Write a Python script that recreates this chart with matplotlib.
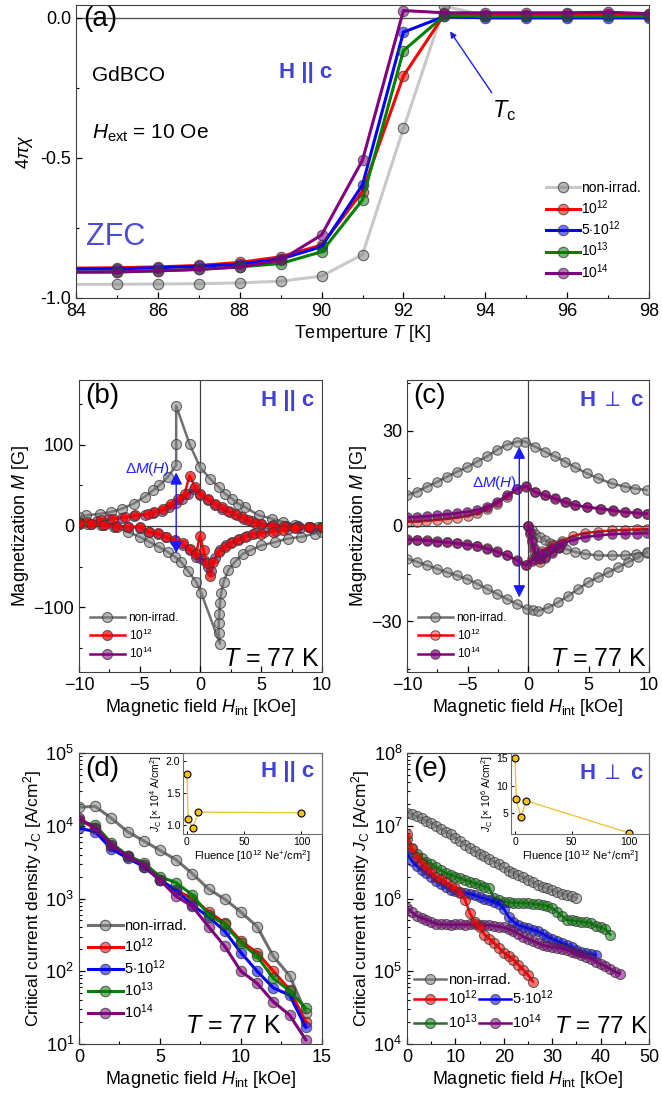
import matplotlib
matplotlib.use('Agg')
import matplotlib.pyplot as plt
from matplotlib.colors import to_rgba
from matplotlib.ticker import MultipleLocator, LogLocator, NullFormatter

plt.rcParams['font.family'] = ['Liberation Sans', 'DejaVu Sans']
plt.rcParams['mathtext.fontset'] = 'custom'
plt.rcParams['mathtext.rm'] = 'Liberation Sans'
plt.rcParams['mathtext.it'] = 'Liberation Sans:italic'
plt.rcParams['mathtext.bf'] = 'Liberation Sans:bold'
plt.rcParams['font.size'] = 13
plt.rcParams['xtick.direction'] = 'in'
plt.rcParams['ytick.direction'] = 'in'
plt.rcParams['axes.edgecolor'] = '#404040'

GRAY = '#808080'
RED = '#ff0000'
BLUE = '#0000ff'
GREEN = '#008000'
PURPLE = '#800080'
TXTBLUE = '#4343d3'

LABELS = ['non-irrad.', r'$10^{12}$', r'$5{\cdot}10^{12}$', r'$10^{13}$', r'$10^{14}$']

# ---- (a) susceptibility vs temperature
temp = [83, 85, 86, 87, 88, 89, 90, 91, 92, 93, 94, 95, 96, 97, 98]
chi_nonirr = [-0.952, -0.951, -0.950, -0.949, -0.946, -0.940, -0.922, -0.845, -0.395, 0.042, 0.008, 0.008, 0.008, 0.010, 0.008]
chi_1e12 = [-0.895, -0.892, -0.889, -0.884, -0.873, -0.853, -0.811, -0.620, -0.207, 0.012, 0.010, 0.010, 0.012, 0.012, 0.012]
chi_5e12 = [-0.897, -0.896, -0.892, -0.887, -0.879, -0.861, -0.817, -0.596, -0.051, 0.005, 0.000, 0.000, 0.000, 0.000, 0.000]
chi_1e13 = [-0.908, -0.907, -0.903, -0.898, -0.889, -0.877, -0.835, -0.650, -0.117, 0.008, 0.005, 0.005, 0.005, 0.005, 0.005]
chi_1e14 = [-0.908, -0.907, -0.903, -0.898, -0.889, -0.865, -0.775, -0.508, 0.026, 0.018, 0.018, 0.018, 0.018, 0.020, 0.015]

# ---- (b) M(H), H || c
b_gray_up_h = [9.7, 8.9, 7.8, 6.8, 5.9, 4.8, 3.7, 3.1, 2.6, 2.0, 1.5, 0.8, -0.04, -0.9, -2.0, -2.0, -2.0, -2.7, -3.4, -3.9, -4.6, -5.5, -6.5, -7.4, -8.3, -9.4, -10]
b_gray_up_m = [-1, -1, 1, 5, 9, 13, 23, 27.5, 33.6, 40, 48, 58, 72.5, 101, 148, 101, 75, 60, 50, 44, 36, 27.5, 21, 17, 15, 13, 11]
b_gray_lo_h = [-10, -9.3, -8.2, -7.1, -6.0, -5.0, -4.2, -3.4, -2.7, -2.1, -1.6, -1.0, -0.35, 0.07, 1.6, 1.5, 1.5, 1.55, 1.6, 1.7, 1.9, 2.3, 2.85, 3.5, 4.1, 5.0, 6.1, 7.2, 8.3, 9.4, 10]
b_gray_lo_m = [5, 3, 1, -1, -7, -13.5, -19.6, -26, -32, -38, -44, -56, -69, -83, -145, -132, -120, -108, -95, -83, -69, -54, -44, -34, -30, -24, -20, -15.5, -13.5, -9.3, -8]
b_red_up_h = [10, 8.9, 7.9, 6.9, 5.9, 5.0, 4.5, 3.95, 3.4, 2.85, 2.3, 1.75, 1.2, 0.65, -0.05, -0.45, -0.9, -1.3, -1.85, -2.4, -3.1, -3.8, -4.3, -5.4, -6.2, -7.2, -8.2, -9.3, -10]
b_red_up_m = [-1, -1, -1, 0, 0, 2, 4, 7, 11, 15, 19, 23, 27.5, 33.6, 40, 48, 62, 40, 33.6, 27.5, 21, 17, 15, 13, 11, 9, 7, 5, 4]
b_red_lo_h = [-10, -9, -7.9, -6.9, -6.0, -5.0, -4.2, -3.5, -2.8, -2.1, -1.45, -0.9, -0.35, -0.05, 0.25, 0.5, 0.8, 1.05, 1.5, 2.0, 2.55, 3.1, 3.65, 4.35, 5.0, 6.0, 6.8, 7.8, 8.9, 10]
b_red_lo_m = [3, 2, 1, -1, -1, -1, -7, -9, -13.5, -17, -21.6, -28, -34, -12, -30, -46, -62, -44, -32, -26, -21.6, -17.6, -13.5, -10, -9.3, -7, -5.3, -3, -1, -1]
b_pur_up_h = [10, 9, 8, 7, 6, 5, 4.2, 3.6, 3.0, 2.4, 1.8, 1.2, 0.6, 0.0, -0.5, -1.0, -1.5, -2.0, -2.6, -3.2, -3.9, -4.6, -5.5, -6.5, -7.5, -8.5, -10]
b_pur_up_m = [-1, -1, 0, 0, 1, 3, 6, 9, 13, 17, 21, 26, 32, 38, 45, 40, 33, 28, 23, 19, 16, 14, 12, 10, 8, 6, 4]
b_pur_lo_h = [-10, -9, -8, -7, -6, -5, -4.2, -3.5, -2.8, -2.1, -1.45, -0.9, -0.35, 0.0, 0.3, 0.6, 0.9, 1.2, 1.6, 2.1, 2.6, 3.2, 3.8, 4.5, 5.2, 6.2, 7.2, 8.2, 9.2, 10]
b_pur_lo_m = [3, 2, 1, 0, -1, -2, -8, -10, -14, -18, -23, -30, -38, -40, -42, -50, -55, -40, -30, -24, -20, -16, -12, -9, -8, -6, -4, -3, -2, -1]

# ---- (c) M(H), H perp c
c_gray_vir_h = [0, 0.3, 0.6, 1.0, 1.4, 1.8, 2.2, 2.6, 3.1, 3.9, 4.7, 5.8, 6.9, 8.0, 8.9, 9.8]
c_gray_vir_m = [0, -1.2, -2.4, -3.5, -4.5, -5.3, -6.1, -6.6, -7.2, -8.2, -8.8, -9.3, -9.3, -9.3, -8.8, -8.4]
c_gray_up_h = [9.8, 8.84, 8.0, 6.9, 5.8, 4.85, 3.88, 3.06, 2.23, 1.4, 0.58, -0.25, -0.9, -1.74, -2.56, -3.39, -4.2, -5.04, -5.87, -6.7, -7.5, -8.35, -9.17, -10]
c_gray_up_m = [11.3, 11.8, 12.4, 13.4, 15.0, 16.6, 18.5, 20.3, 21.9, 23.4, 25.0, 26.6, 26.6, 25.6, 24.0, 21.9, 20.3, 18.5, 17.1, 15.5, 13.9, 12.4, 10.8, 9.7]
c_gray_lo_h = [-10, -9.17, -8.35, -7.5, -6.7, -5.87, -5.04, -4.2, -3.39, -2.56, -1.74, -0.9, -0.08, 0.4, 0.85, 1.68, 2.5, 3.33, 4.16, 4.98, 5.8, 6.64, 7.46, 8.29, 9.1, 9.8]
c_gray_lo_m = [-10.3, -11.3, -12.4, -13.5, -14.6, -15.6, -16.7, -18.2, -19.8, -21.4, -23.0, -24.6, -26.2, -26.5, -26.7, -25.7, -24.0, -22.0, -19.8, -17.7, -16.1, -14.6, -13.0, -11.4, -9.8, -8.2]
c_red_vir_h = [0, 0.15, 0.3, 0.5, 0.7, 1.0, 1.4, 2.0, 2.6]
c_red_vir_m = [0, -2.5, -5, -8, -10.5, -11.5, -10, -8, -6.5]
c_red_up_h = [9.8, 9.0, 8.0, 7.0, 6.0, 4.9, 3.9, 3.1, 2.2, 1.4, 0.6, -0.2, -0.9, -1.7, -2.6, -3.4, -4.2, -5.0, -5.9, -6.7, -7.5, -8.4, -9.2, -10]
c_red_up_m = [3.8, 4.0, 4.3, 4.8, 5.3, 5.9, 6.5, 7.4, 8.5, 9.6, 10.6, 12.4, 11.5, 9.2, 7.0, 5.2, 4.0, 3.2, 2.6, 2.2, 1.9, 1.6, 1.4, 1.3]
c_red_lo_h = [-10, -9.17, -8.35, -7.5, -6.7, -5.87, -5.04, -4.2, -3.39, -2.56, -1.74, -0.9, -0.2, 0.3, 1.13, 1.96, 2.8, 3.7, 4.7, 5.8, 6.9, 8.0, 9.0, 9.8]
c_red_lo_m = [-4.2, -4.3, -4.5, -4.8, -5.1, -5.4, -5.8, -6.2, -7.0, -8.0, -9.2, -10.7, -12.2, -10.5, -8.0, -6.0, -4.8, -3.2, -2.2, -1.8, -1.4, -1.2, -1.1, -1.0]
c_pur_vir_h = [0, 0.15, 0.3, 0.5, 0.7, 1.0, 1.4, 2.0, 2.6]
c_pur_vir_m = [0, -2, -4.5, -7, -9.5, -10.5, -9.8, -8.4, -7.0]
c_pur_up_h = [9.8, 8.98, 8.0, 7.05, 5.95, 4.85, 3.88, 3.06, 2.23, 1.4, 0.58, -0.2, -0.9, -1.74, -2.56, -3.39, -4.2, -5.04, -5.87, -6.7, -7.5, -8.35, -9.17, -10]
c_pur_up_m = [3.9, 4.1, 4.4, 5.0, 5.5, 6.0, 6.6, 7.6, 8.7, 9.7, 10.8, 12.6, 11.8, 9.7, 7.6, 6.0, 5.0, 4.5, 4.1, 3.7, 3.4, 3.1, 2.9, 2.8]
c_pur_lo_h = [-10, -9.17, -8.35, -7.5, -6.7, -5.87, -5.04, -4.2, -3.39, -2.56, -1.74, -0.9, -0.2, 0.3, 1.13, 1.96, 2.8, 3.7, 4.7, 5.8, 6.9, 8.0, 9.0, 9.8]
c_pur_lo_m = [-4.3, -4.3, -4.6, -4.9, -5.2, -5.5, -5.9, -6.3, -7.2, -8.2, -9.3, -10.9, -12.4, -11.0, -8.6, -6.8, -5.5, -4.4, -3.5, -3.0, -2.6, -2.4, -2.4, -2.2]

# ---- (d) Jc(H), H || c
d_field = [0, 1, 2, 3, 4, 5, 6, 7, 8, 9, 10, 11, 12, 13, 14]
d_nonirr = [1.8e4, 1.85e4, 1.27e4, 8.3e3, 6.2e3, 4.6e3, 3.4e3, 2.2e3, 1.35e3, 980, 650, 410, 160, 87, 27]
d_1e12 = [1.2e4, 9.3e3, 5.2e3, 3.8e3, 2.75e3, 1.8e3, 1.3e3, 1.0e3, 660, 460, 260, 180, 100, 56, 20]
d_5e12 = [9.3e3, 8.3e3, 4.8e3, 3.6e3, 2.75e3, 1.8e3, 1.3e3, 810, 560, 355, 180, 100, 59, 47, 17]
d_1e13 = [1.15e4, 1.02e4, 5.8e3, 3.9e3, 3.1e3, 2.0e3, 1.65e3, 1.12e3, 600, 440, 245, 160, 80, 54, 31]
d_1e14 = [1.27e4, 9.3e3, 5.5e3, 3.8e3, 2.9e3, 1.8e3, 1.07e3, 780, 410, 220, 100, 68, 38, 25, 11.4]

# ---- (e) Jc(H), H perp c
e_field = [0, 1, 2, 3, 4, 5, 6, 7, 8, 9, 10, 11, 12, 13, 14, 15, 16, 17, 18, 19, 20, 21, 22,
           23, 24, 25, 26, 27, 28, 29, 30, 31, 32, 33, 34, 35, 36, 37, 38, 39, 40, 41, 42, 43, 44]
e_nonirr = [1.51e7, 1.45e7, 1.35e7, 1.26e7, 1.17e7, 1.10e7, 1.00e7, 9.1e6, 8.3e6, 7.6e6, 6.8e6, 6.2e6,
            5.5e6, 5.0e6, 4.5e6, 4.1e6, 3.8e6, 3.5e6, 3.2e6, 3.0e6, 2.7e6, 2.4e6, 2.26e6, 2.1e6, 1.95e6,
            1.82e6, 1.68e6, 1.55e6, 1.46e6, 1.38e6, 1.30e6, 1.23e6, 1.17e6, 1.12e6, 1.07e6, 1.02e6]
e_1e12 = [7.6e6, 5.0e6, 3.7e6, 3.1e6, 2.6e6, 2.3e6, 2.0e6, 1.86e6, 1.7e6, 1.5e6, 1.38e6, 1.2e6, 9.5e5,
          6.3e5, 4.8e5, 4.0e5, 3.2e5, 2.8e5, 2.45e5, 2.1e5, 1.8e5, 1.6e5, 1.45e5, 1.23e5, 1.05e5, 8.9e4, 7.2e4]
e_5e12 = [4.2e6, 3.3e6, 2.8e6, 2.5e6, 2.24e6, 2.0e6, 1.76e6, 1.58e6, 1.43e6, 1.32e6, 1.27e6, 1.23e6,
          1.2e6, 1.16e6, 1.11e6, 1.05e6, 1.0e6, 9.5e5, 9.1e5, 8.5e5, 7.2e5, 5.6e5, 4.8e5, 4.3e5, 4.1e5,
          3.9e5, 3.7e5, 3.55e5, 3.3e5, 3.0e5, 2.8e5, 2.6e5, 2.45e5, 2.3e5, 2.15e5, 1.95e5, 1.86e5,
          1.78e5, 1.72e5, 1.66e5]
e_1e13 = [6.6e6, 4.8e6, 4.1e6, 3.6e6, 3.2e6, 3.0e6, 2.7e6, 2.45e6, 2.24e6, 2.1e6, 2.0e6, 1.9e6, 1.8e6,
          1.7e6, 1.62e6, 1.55e6, 1.46e6, 1.38e6, 1.02e6, 9.5e5, 9.1e5, 8.9e5, 8.7e5, 8.7e5, 8.7e5, 8.6e5,
          8.5e5, 8.3e5, 8.2e5, 7.9e5, 7.4e5, 6.6e5, 5.75e5, 5.1e5, 5.0e5, 4.9e5, 4.8e5, 4.7e5, 4.6e5,
          4.2e5, 4.0e5, 3.8e5, 3.2e5]
e_1e14 = [7.4e5, 6.5e5, 5.75e5, 5.4e5, 5.1e5, 4.8e5, 4.5e5, 4.4e5, 4.4e5, 4.35e5, 4.4e5, 4.4e5, 4.35e5,
          4.4e5, 4.4e5, 4.35e5, 4.3e5, 4.3e5, 4.2e5, 4.1e5, 4.0e5, 3.8e5, 3.55e5, 3.3e5, 3.0e5, 2.8e5,
          2.6e5, 2.45e5, 2.3e5, 2.2e5, 2.15e5, 2.1e5, 2.05e5, 1.95e5, 1.86e5, 1.78e5, 1.66e5, 1.58e5,
          1.48e5, 1.35e5, 1.26e5, 1.17e5, 1.07e5, 9.8e4, 9.3e4]

# ---- insets: Jc at zero field vs fluence
fluence = [0, 1, 5, 10, 100]
jc0_par = [1.8, 1.1, 0.95, 1.2, 1.19]
jc0_perp = [15, 7.5, 4.3, 7.2, 1.3]


def draw(ax, x, y, color, label=None, lw=2.0, ms=7.0, line=None, alpha=0.55):
    return ax.plot(x, y, '-o', color=line or color, lw=lw, ms=ms,
                   mfc=to_rgba(color, alpha), mec=to_rgba('#3a3a3a', 0.75),
                   mew=0.8, label=label)[0]


def style(ax, xmaj, xmin, ymaj=None, ymin=None):
    ax.xaxis.set_major_locator(MultipleLocator(xmaj))
    ax.xaxis.set_minor_locator(MultipleLocator(xmin))
    if ymaj is not None:
        ax.yaxis.set_major_locator(MultipleLocator(ymaj))
        ax.yaxis.set_minor_locator(MultipleLocator(ymin))
    ax.tick_params(which='major', length=4, width=0.9, labelsize=13)
    ax.tick_params(which='minor', length=2.5, width=0.8)


def logstyle(ax):
    ax.set_yscale('log')
    ax.yaxis.set_major_locator(LogLocator(base=10))
    ax.yaxis.set_minor_locator(LogLocator(base=10, subs=(2, 3, 4, 5, 6, 7, 8, 9)))
    ax.yaxis.set_minor_formatter(NullFormatter())


def inset(ax, bounds, y, ylim, yticks, ylabel):
    ins = ax.inset_axes(bounds)
    ins.set_facecolor('none')
    ins.plot(fluence, y, '-o', color='#ecc640', lw=1.0, ms=5, mfc='#f6c21a', mec='black', mew=0.8)
    ins.set_xlim(-3.5, 118)
    ins.set_ylim(*ylim)
    ins.set_xticks([0, 50, 100])
    ins.set_yticks(yticks)
    ins.tick_params(labelsize=7.5, length=2.5, width=0.7, pad=2)
    for s in ins.spines.values():
        s.set_color('#707070')
        s.set_linewidth(0.8)
    ins.set_xlabel(r'Fluence [10$^{12}$ Ne$^{+}$/cm$^{2}$]', fontsize=8, labelpad=1)
    ins.set_ylabel(ylabel, fontsize=7.5, labelpad=1)
    return ins


fig = plt.figure(figsize=(6.62, 11), dpi=100)

# ---------------- (a)
ax = fig.add_axes([0.1148, 0.7291, 0.8656, 0.2664])
ax.axhline(0, color='#555555', lw=1.0, zorder=0)
h = []
h.append(draw(ax, temp, chi_nonirr, GRAY, LABELS[0], lw=2.2, ms=7.5, line='#c8c8c8'))
h.append(draw(ax, temp, chi_1e12, RED, LABELS[1], lw=2.2, ms=7.5))
h.append(draw(ax, temp, chi_5e12, BLUE, LABELS[2], lw=2.2, ms=7.5))
h.append(draw(ax, temp, chi_1e13, GREEN, LABELS[3], lw=2.2, ms=7.5))
h.append(draw(ax, temp, chi_1e14, PURPLE, LABELS[4], lw=2.2, ms=7.5))
ax.set_xlim(84, 98)
ax.set_ylim(-1.0, 0.046)
style(ax, 2, 1, 0.5, 0.25)
ax.yaxis.set_major_formatter(plt.FormatStrFormatter('%.1f'))
ax.set_xlabel(r'Temperture $T$ [K]', fontsize=13, labelpad=2)
ax.set_ylabel(r'$4\pi\chi$', fontsize=13)
ax.legend(handles=h, loc='lower right', bbox_to_anchor=(1.0, 0.03), frameon=False, fontsize=10,
          handlelength=2.4, handletextpad=0.1, labelspacing=0.2, borderaxespad=0.2)
ax.text(0.012, 0.995, '(a)', transform=ax.transAxes, fontsize=20, va='top')
ax.text(0.028, 0.758, 'GdBCO', transform=ax.transAxes, fontsize=15, va='center')
ax.text(0.028, 0.563, r'$H_{\rm ext}$ = 10 Oe', transform=ax.transAxes, fontsize=15, va='center')
ax.text(0.018, 0.208, 'ZFC', transform=ax.transAxes, fontsize=22, color='#4b4bd6', va='center')
ax.text(0.355, 0.768, 'H || c', transform=ax.transAxes, fontsize=16, fontweight='bold',
        color=TXTBLUE, va='center')
ax.annotate(r'$T_{\rm c}$', xy=(93.1, -0.04), xytext=(94.45, -0.33), fontsize=17,
            ha='center', va='center',
            arrowprops=dict(arrowstyle='-|>', color='#2020e0', lw=1.0, mutation_scale=9))

# ---------------- (b)
ax = fig.add_axes([0.1193, 0.3891, 0.3671, 0.2655])
ax.axhline(0, color='#404040', lw=0.9, zorder=0)
ax.axvline(0, color='#404040', lw=0.9, zorder=0)
g = draw(ax, b_gray_up_h, b_gray_up_m, GRAY, LABELS[0], lw=1.8, ms=7.2, line='#707070')
draw(ax, b_gray_lo_h, b_gray_lo_m, GRAY, lw=1.8, ms=7.2, line='#707070')
p = draw(ax, b_pur_up_h, b_pur_up_m, PURPLE, LABELS[4], lw=1.8, ms=7.2)
draw(ax, b_pur_lo_h, b_pur_lo_m, PURPLE, lw=1.8, ms=7.2)
r = draw(ax, b_red_up_h, b_red_up_m, RED, LABELS[1], lw=1.8, ms=7.2, alpha=0.7)
draw(ax, b_red_lo_h, b_red_lo_m, RED, lw=1.8, ms=7.2, alpha=0.7)
ax.set_xlim(-10, 10)
ax.set_ylim(-180, 180)
style(ax, 5, 2.5, 100, 50)
ax.set_xlabel(r'Magnetic field $H_{\rm int}$ [kOe]', fontsize=13, labelpad=2)
ax.set_ylabel(r'Magnetization $M$ [G]', fontsize=13, labelpad=2)
ax.legend(handles=[g, r, p], loc='lower left', frameon=False, fontsize=8.5,
          handlelength=3.0, handletextpad=0.3, labelspacing=0.3, borderaxespad=0.5)
ax.annotate('', xy=(-2.0, 66), xytext=(-2.0, -34),
            arrowprops=dict(arrowstyle='<|-|>', color='#1a1aff', lw=1.0, mutation_scale=18,
                            shrinkA=0, shrinkB=0))
ax.text(-2.5, 70, r'$\Delta M(H)$', fontsize=11, color='#2222ff', ha='right', va='center')
ax.text(0.025, 0.99, '(b)', transform=ax.transAxes, fontsize=20, va='top')
ax.text(0.97, 0.93, 'H || c', transform=ax.transAxes, fontsize=16, fontweight='bold',
        color=TXTBLUE, ha='right', va='center')
ax.text(0.99, 0.005, r'$T$ = 77 K', transform=ax.transAxes, fontsize=18, ha='right', va='bottom')

# ---------------- (c)
ax = fig.add_axes([0.6148, 0.3891, 0.3656, 0.2655])
ax.axhline(0, color='#404040', lw=0.9, zorder=0)
ax.axvline(0, color='#404040', lw=0.9, zorder=0)
g = draw(ax, c_gray_vir_h, c_gray_vir_m, GRAY, LABELS[0], lw=1.8, ms=6.8, line='#707070')
draw(ax, c_gray_up_h, c_gray_up_m, GRAY, lw=1.8, ms=6.8, line='#707070')
draw(ax, c_gray_lo_h, c_gray_lo_m, GRAY, lw=1.8, ms=6.8, line='#707070')
r = draw(ax, c_red_vir_h, c_red_vir_m, RED, LABELS[1], lw=1.8, ms=6.8, alpha=0.4)
draw(ax, c_red_up_h, c_red_up_m, RED, lw=1.8, ms=6.8, alpha=0.4)
draw(ax, c_red_lo_h, c_red_lo_m, RED, lw=1.8, ms=6.8, alpha=0.4)
p = draw(ax, c_pur_vir_h, c_pur_vir_m, PURPLE, LABELS[4], lw=1.8, ms=6.8, alpha=0.7)
draw(ax, c_pur_up_h, c_pur_up_m, PURPLE, lw=1.8, ms=6.8, alpha=0.7)
draw(ax, c_pur_lo_h, c_pur_lo_m, PURPLE, lw=1.8, ms=6.8, alpha=0.7)
ax.set_xlim(-10, 10)
ax.set_ylim(-46, 46)
style(ax, 5, 2.5, 30, 15)
ax.set_xlabel(r'Magnetic field $H_{\rm int}$ [kOe]', fontsize=13, labelpad=2)
ax.set_ylabel(r'Magnetization $M$ [G]', fontsize=13, labelpad=2)
ax.legend(handles=[g, r, p], loc='lower left', frameon=False, fontsize=8.5,
          handlelength=3.0, handletextpad=0.3, labelspacing=0.3, borderaxespad=0.5)
ax.annotate('', xy=(-0.72, 25), xytext=(-0.72, -22.5),
            arrowprops=dict(arrowstyle='<|-|>', color='#1a1aff', lw=1.0, mutation_scale=18,
                            shrinkA=0, shrinkB=0))
ax.text(-0.9, 13.4, r'$\Delta M(H)$', fontsize=11, color='#2222ff', ha='right', va='center')
ax.text(0.025, 0.99, '(c)', transform=ax.transAxes, fontsize=20, va='top')
ax.text(0.98, 0.93, r'H $\perp$ c', transform=ax.transAxes, fontsize=16, fontweight='bold',
        color=TXTBLUE, ha='right', va='center')
ax.text(0.99, 0.005, r'$T$ = 77 K', transform=ax.transAxes, fontsize=18, ha='right', va='bottom')

# ---------------- (d)
ax = fig.add_axes([0.1193, 0.0509, 0.3671, 0.2645])
h = []
h.append(draw(ax, d_field, d_nonirr, GRAY, LABELS[0], lw=2.2, ms=7.5, line='#707070'))
h.append(draw(ax, d_field, d_1e12, RED, LABELS[1], lw=2.2, ms=7.5))
h.append(draw(ax, d_field, d_5e12, BLUE, LABELS[2], lw=2.2, ms=7.5))
h.append(draw(ax, d_field, d_1e13, GREEN, LABELS[3], lw=2.2, ms=7.5))
h.append(draw(ax, d_field, d_1e14, PURPLE, LABELS[4], lw=2.2, ms=7.5))
logstyle(ax)
ax.set_xlim(0, 15)
ax.set_ylim(1e1, 1e5)
style(ax, 5, 2.5)
ax.set_xlabel(r'Magnetic field $H_{\rm int}$ [kOe]', fontsize=13, labelpad=2)
ax.set_ylabel(r'Critical current density $J_{\rm C}$ [A/cm$^2$]', fontsize=12.5, labelpad=1)
ax.legend(handles=h, loc='lower left', bbox_to_anchor=(0.0, 0.05), frameon=False, fontsize=10.5,
          handlelength=2.4, handletextpad=0.1, labelspacing=0.22, borderaxespad=0.2)
ax.text(0.025, 0.99, '(d)', transform=ax.transAxes, fontsize=20, va='top')
ax.text(0.97, 0.935, 'H || c', transform=ax.transAxes, fontsize=16, fontweight='bold',
        color=TXTBLUE, ha='right', va='center', zorder=5)
ax.text(0.835, 0.02, r'$T$ = 77 K', transform=ax.transAxes, fontsize=18, ha='right', va='bottom')
inset(ax, [0.428, 0.722, 0.572, 0.278], jc0_par, (0.86, 2.12), [1.0, 1.5, 2.0],
      r'$J_{\rm C}$ [$\times$ 10$^4$ A/cm$^2$]')

# ---------------- (e)
ax = fig.add_axes([0.6148, 0.0509, 0.3656, 0.2645])
g = draw(ax, e_field[:len(e_nonirr)], e_nonirr, GRAY, LABELS[0], lw=1.8, ms=7.2, line='#707070')
gr = draw(ax, e_field[:len(e_1e13)], e_1e13, GREEN, LABELS[3], lw=1.8, ms=7.2, line='#2f6b3a')
b = draw(ax, e_field[:len(e_5e12)], e_5e12, BLUE, LABELS[2], lw=1.8, ms=7.2)
p = draw(ax, e_field[:len(e_1e14)], e_1e14, PURPLE, LABELS[4], lw=1.8, ms=7.2)
r = draw(ax, e_field[:len(e_1e12)], e_1e12, RED, LABELS[1], lw=1.8, ms=7.2)
logstyle(ax)
ax.set_xlim(0, 50)
ax.set_ylim(1e4, 1e8)
style(ax, 10, 5)
ax.set_xlabel(r'Magnetic field $H_{\rm int}$ [kOe]', fontsize=13, labelpad=2)
ax.set_ylabel(r'Critical current density $J_{\rm C}$ [A/cm$^2$]', fontsize=12.5, labelpad=1)
leg1 = ax.legend(handles=[g], loc='lower left', bbox_to_anchor=(0.0, 0.17), frameon=False,
                 fontsize=10.5, handlelength=2.2, handletextpad=0.1, borderaxespad=0.1)
ax.add_artist(leg1)
ax.legend(handles=[r, gr, b, p], ncol=2, loc='lower left', bbox_to_anchor=(0.0, 0.02),
          frameon=False, fontsize=10.5, handlelength=2.2, handletextpad=0.1, labelspacing=0.35,
          columnspacing=0.1, borderaxespad=0.1)
ax.text(0.025, 0.99, '(e)', transform=ax.transAxes, fontsize=20, va='top')
ax.text(0.98, 0.93, r'H $\perp$ c', transform=ax.transAxes, fontsize=16, fontweight='bold',
        color=TXTBLUE, ha='right', va='center', zorder=5)
ax.text(0.995, 0.02, r'$T$ = 77 K', transform=ax.transAxes, fontsize=17.5, ha='right', va='bottom')
inset(ax, [0.43, 0.722, 0.57, 0.278], jc0_perp, (1.1, 16), [5, 10, 15],
      r'$J_{\rm C}$ [$\times$ 10$^6$ A/cm$^2$]')

fig.savefig('out.png', dpi=100)
